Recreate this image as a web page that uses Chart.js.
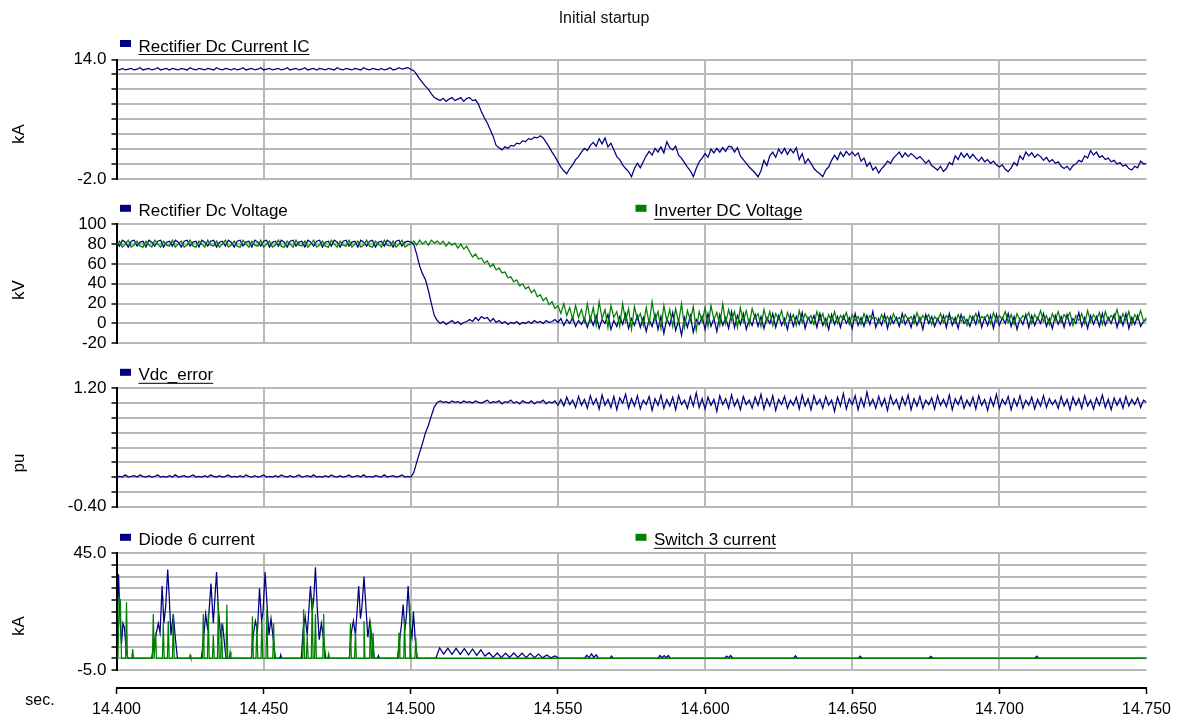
<!DOCTYPE html>
<html>
<head>
<meta charset="utf-8">
<title>Initial startup</title>
<script src="https://cdn.jsdelivr.net/npm/chart.js@4.4.1/dist/chart.umd.min.js"></script>
<style>
  html, body { margin: 0; padding: 0; background: #fff; }
  #wrap { position: relative; width: 1179px; height: 717px; }
  #wrap canvas { position: absolute; left: 0; top: 0; }
</style>
</head>
<body>
<div id="wrap">
  <canvas id="p1" width="1179" height="717"></canvas>
  <canvas id="p2" width="1179" height="717"></canvas>
  <canvas id="p3" width="1179" height="717"></canvas>
  <canvas id="p4" width="1179" height="717"></canvas>
  <canvas id="axis" width="1179" height="717"></canvas>
</div>
<script>
// sampled every 1 ms from 14.400 s (panels 1-3)
const T0 = 14.4, DT = 0.001;
const X_MIN = 14.4, X_MAX = 14.75, X_STEP = 0.05;

// Rectifier Dc Current IC (kA)
const rectCurrent = [
  12.7,12.6,12.8,12.6,12.7,12.8,12.6,12.7,12.9,12.6,
  12.7,12.8,12.6,12.7,12.9,12.6,12.7,12.8,12.6,12.8,
  12.7,12.6,12.8,12.7,12.6,12.9,12.7,12.6,12.8,12.7,
  12.6,12.8,12.7,12.6,12.9,12.7,12.6,12.8,12.7,12.6,
  12.8,12.6,12.7,12.9,12.6,12.7,12.8,12.6,12.7,12.9,
  12.6,12.7,12.8,12.6,12.7,12.8,12.6,12.7,12.9,12.6,
  12.7,12.8,12.6,12.7,12.9,12.6,12.7,12.8,12.6,12.8,
  12.7,12.6,12.8,12.7,12.6,12.9,12.7,12.6,12.8,12.7,
  12.6,12.8,12.7,12.6,12.9,12.7,12.6,12.8,12.7,12.6,
  12.8,12.6,12.7,12.9,12.6,12.7,12.9,12.7,12.8,12.9,
  12.7,12.5,12.0,11.4,10.9,10.4,10.0,9.4,8.9,8.7,
  8.5,8.8,8.4,8.7,8.9,8.5,8.7,8.9,8.4,8.8,
  8.9,8.5,8.6,8.0,7.0,6.2,5.5,4.6,3.7,2.5,
  2.2,1.9,2.3,2.1,2.5,2.4,2.8,2.7,3.1,3.0,
  3.4,3.3,3.6,3.5,3.8,3.5,2.9,2.3,1.6,1.0,
  0.3,-0.4,-0.9,-1.3,-0.6,-0.1,0.6,1.0,1.6,2.1,
  1.8,2.5,2.9,2.4,3.4,2.7,3.5,2.3,2.8,1.9,
  1.0,0.6,-0.1,-0.6,-1.0,-1.7,-0.6,0.1,-0.5,0.3,
  1.1,1.7,1.2,2.1,1.6,2.3,1.5,3.0,2.2,1.9,
  2.4,1.2,0.8,0.2,-0.4,-0.9,-1.7,-0.6,0.3,0.8,
  1.4,0.9,2.0,1.5,2.1,1.6,2.2,1.7,2.4,2.3,
  1.6,2.2,1.1,0.6,0.1,-0.4,-0.8,-1.2,-1.7,-0.9,
  0.5,-0.2,1.1,1.6,0.9,2.0,1.4,2.1,1.3,2.0,
  1.5,2.2,0.6,1.4,0.1,0.7,0.1,-0.6,-1.0,-1.3,
  -1.7,-0.8,-0.4,0.5,1.2,0.6,1.6,1.0,1.7,1.2,
  1.6,1.1,1.5,0.4,0.8,-0.3,0.2,-0.8,-0.4,-1.2,
  -0.6,-0.2,0.4,0.1,0.8,1.2,1.6,0.9,1.5,1.0,
  1.4,1.1,0.7,1.0,0.6,0.1,0.5,-0.2,-0.5,-0.8,
  -0.3,-1.0,-0.6,0.2,-0.1,1.1,0.6,1.5,0.9,1.4,
  0.8,1.3,0.8,0.4,0.9,0.3,0.6,0.1,0.4,-0.1,
  -0.4,-0.1,-0.7,-1.0,-0.5,0.2,-0.2,1.1,0.6,1.6,
  1.1,1.5,0.9,1.3,1.0,0.5,0.9,0.3,0.6,0.1,
  0.3,-0.3,-0.6,-0.3,-0.8,-0.2,0.0,0.5,0.3,1.1,
  0.8,1.8,1.2,1.6,0.9,1.1,0.6,0.8,0.3,0.5,
  0.0,0.2,-0.3,-0.1,-0.6,-0.8,-0.3,-0.5,0.4,0.0,
  0.1
];

// Rectifier Dc Voltage (kV)
const rectVoltage = [
  83,78,84,82,77,83,84,78,82,83,
  77,84,82,78,83,84,77,82,83,78,
  84,82,77,83,84,78,82,83,77,84,
  82,78,83,84,77,82,83,78,84,82,
  77,83,84,78,82,83,77,84,82,78,
  83,84,77,82,83,78,84,82,77,83,
  84,78,82,83,77,84,82,78,83,84,
  77,82,83,78,84,82,77,83,84,78,
  82,83,77,84,82,78,83,84,77,82,
  83,78,84,82,77,83,84,78,82,83,
  82,80,70,58,50,44,33,20,8,3,
  0,2,-1,1,3,0,2,-1,1,2,
  4,2,6,3,7,5,6,2,5,1,
  3,0,2,-1,1,0,2,-1,1,0,
  2,0,3,1,2,0,3,1,2,4,
  1,5,-2,4,0,6,-3,3,-1,5,
  -4,6,-2,8,-5,4,0,9,-6,3,
  -3,7,-1,10,-5,5,-2,8,-4,6,
  -8,4,-3,9,-6,7,-10,5,-2,11,
  -7,3,-12,6,-4,8,-9,4,-1,7,
  -6,10,-3,5,-8,9,-2,6,-5,12,
  -4,8,-1,10,-6,4,-2,9,-3,7,
  -5,6,0,10,-4,8,-2,5,-6,9,
  -3,7,-1,11,-5,6,0,8,-4,10,
  -2,5,-6,9,-1,7,-4,8,0,6,
  -5,10,-2,6,-3,8,-1,12,-4,5,
  -2,9,-5,7,0,6,-3,10,-1,5,
  -4,8,-2,6,-6,9,0,7,-3,5,
  -1,8,-4,10,-2,6,-5,9,0,4,
  -3,7,-1,11,-4,6,-2,8,-5,9,
  -2,6,0,10,-3,7,-6,5,-1,9,
  -4,8,-2,6,0,10,-3,5,-5,8,
  -1,7,-4,9,-2,5,0,11,-3,6,
  -5,8,-1,7,-3,10,-2,6,0,9,
  -4,7,-2,10,-5,6,-1,8,-3,2,
  4
];

// Inverter DC Voltage (kV)
const invVoltage = [
  79,83,77,80,84,77,79,83,78,77,
  83,79,77,84,80,77,83,79,78,84,
  77,80,83,77,79,84,78,77,83,80,
  77,84,79,78,83,77,80,84,77,79,
  83,78,77,84,80,77,83,79,78,84,
  77,80,83,77,79,84,78,77,83,80,
  77,84,79,78,83,77,80,84,77,79,
  83,78,77,84,80,77,83,79,78,84,
  77,80,83,77,79,84,78,77,83,80,
  77,84,79,78,83,77,80,84,77,79,
  80,83,79,84,80,83,79,84,81,83,
  80,83,78,82,79,81,76,80,75,78,
  72,67,70,65,66,61,63,57,60,54,
  56,51,52,46,47,42,44,38,40,35,
  37,31,34,27,29,23,26,19,22,15,
  18,10,20,8,16,4,18,6,14,2,
  20,3,16,-2,22,5,14,-4,18,6,
  12,-3,20,2,15,-6,17,4,10,-2,
  16,0,22,3,12,-5,18,2,14,-3,
  15,1,20,-4,13,3,17,-7,12,2,
  16,-3,18,4,11,-2,20,0,14,3,
  12,-4,16,2,13,-1,15,5,10,-3,
  14,2,12,-2,10,4,13,-1,11,3,
  9,-2,13,1,10,4,8,-1,12,3,
  10,-2,9,2,12,0,8,4,11,-1,
  9,3,7,-1,10,2,8,5,6,0,
  9,2,7,-1,10,3,6,1,9,4,
  7,0,11,2,8,4,9,-1,7,3,
  10,1,8,4,6,0,9,2,7,-2,
  8,3,10,1,7,5,9,0,11,2,
  8,4,12,1,9,-1,10,3,8,5,
  11,0,9,4,13,2,8,-1,10,3,
  12,1,9,5,11,-2,8,3,10,0,
  13,2,9,4,11,-1,12,3,8,5,
  14,1,10,3,12,-1,9,4,13,2,
  6
];

// Vdc_error (pu)
const vdcError = [
  0.00,0.01,0.00,0.03,0.00,0.01,0.02,0.00,0.03,0.01,
  0.00,0.02,0.00,0.01,0.03,0.00,0.01,0.00,0.02,0.00,
  0.03,0.00,0.01,0.02,0.00,0.01,0.03,0.00,0.01,0.00,
  0.02,0.00,0.03,0.01,0.00,0.02,0.00,0.01,0.03,0.00,
  0.01,0.00,0.02,0.00,0.03,0.01,0.00,0.02,0.00,0.01,
  0.03,0.00,0.01,0.00,0.02,0.00,0.03,0.01,0.00,0.02,
  0.00,0.01,0.03,0.00,0.01,0.02,0.00,0.03,0.00,0.01,
  0.00,0.02,0.00,0.03,0.01,0.00,0.02,0.00,0.01,0.03,
  0.00,0.01,0.02,0.00,0.03,0.00,0.01,0.00,0.02,0.01,
  0.00,0.03,0.00,0.01,0.02,0.00,0.01,0.03,0.00,0.01,
  0.00,0.06,0.20,0.33,0.46,0.60,0.70,0.83,0.95,1.01,
  1.03,1.01,1.02,1.00,1.03,1.01,1.02,1.00,1.03,1.01,
  1.02,1.00,1.03,1.01,1.00,1.02,1.04,1.00,1.02,1.01,
  1.03,0.99,1.02,1.01,1.04,1.00,1.02,0.99,1.03,1.01,
  1.00,1.03,0.99,1.02,1.01,1.04,0.99,1.02,1.00,1.03,
  0.97,1.05,0.96,1.08,0.98,1.04,0.94,1.09,0.97,1.05,
  0.93,1.10,0.98,1.06,0.92,1.11,0.97,1.05,0.94,1.09,
  0.91,1.07,1.00,1.12,0.93,1.06,0.96,1.10,0.92,1.04,
  0.98,1.09,0.90,1.06,0.97,1.11,0.93,1.05,0.96,1.08,
  0.91,1.10,0.98,1.04,0.93,1.09,0.96,1.14,0.94,1.06,
  0.92,1.08,0.97,1.05,0.89,1.10,0.98,1.06,0.93,1.11,
  0.96,1.05,0.91,1.09,0.98,1.04,0.93,1.08,0.97,1.12,
  0.92,1.06,0.96,1.10,0.90,1.05,0.98,1.09,0.93,1.04,
  0.97,1.08,0.92,1.11,0.96,1.06,0.91,1.10,0.98,1.05,
  0.93,1.09,0.97,1.04,0.89,1.08,0.96,1.13,0.92,1.06,
  0.98,1.10,0.91,1.07,0.95,1.15,0.97,1.05,0.93,1.09,
  0.96,1.06,0.90,1.10,0.98,1.05,0.92,1.08,0.97,1.11,
  0.91,1.06,0.96,1.09,0.93,1.04,0.98,1.07,0.92,1.10,
  0.97,1.05,0.95,1.11,0.91,1.06,0.98,1.09,0.93,1.04,
  0.96,1.08,0.92,1.10,0.97,1.05,0.90,1.07,0.96,1.12,
  0.93,1.05,0.98,1.09,0.91,1.06,0.96,1.10,0.93,1.04,
  0.97,1.08,0.92,1.05,0.96,1.10,0.94,1.06,0.98,1.04,
  0.93,1.09,0.96,1.05,0.91,1.08,0.97,1.06,0.93,1.10,
  0.96,1.04,0.92,1.07,0.97,1.11,0.94,1.05,0.91,1.07,
  0.97,1.06,0.93,1.09,0.96,1.05,0.98,1.07,0.94,1.04,
  1.01
];

// Diode 6 current: [time s, kA]
const diodePoints = [
  [14.4000,8],[14.4007,36],[14.4012,17],[14.4017,6],[14.4022,15],[14.4027,13],[14.4033,3],[14.4039,0],
  [14.4119,0],[14.4134,10],[14.4142,15],[14.4148,11],[14.4155,31],[14.4161,15],[14.4167,22],[14.4174,38],[14.4179,27],[14.4185,10],[14.4193,19],[14.4199,10],[14.4207,0],
  [14.4288,0],[14.4295,7],[14.4303,19],[14.4310,12],[14.4321,32],[14.4329,15],[14.4340,37],[14.4346,21],[14.4354,10],[14.4361,14],[14.4372,0],
  [14.4458,0],[14.4465,10],[14.4472,16],[14.4479,12],[14.4486,30],[14.4493,16],[14.4498,20],[14.4505,37],[14.4511,24],[14.4518,10],[14.4525,17],[14.4532,9],[14.4540,0],
  [14.4555,0],[14.4558,1.5],[14.4561,0],
  [14.4628,0],[14.4634,12],[14.4641,18],[14.4648,10],[14.4659,31],[14.4665,20],[14.4670,25],[14.4676,39],[14.4682,22],[14.4689,8],[14.4696,15],[14.4703,9],[14.4711,0],
  [14.4791,0],[14.4798,11],[14.4805,16],[14.4812,10],[14.4823,31],[14.4829,17],[14.4834,22],[14.4841,35],[14.4847,23],[14.4854,9],[14.4861,16],[14.4868,8],[14.4876,0],
  [14.4887,0],[14.4890,1.2],[14.4893,0],
  [14.4955,0],[14.4962,8],[14.4968,14],[14.4974,23],[14.4980,12],[14.4985,18],[14.4991,31],[14.4998,14],[14.5004,9],[14.5009,20],[14.5015,8],[14.5022,0],
  [14.5085,0],[14.5098,4.5],[14.5112,1.8],[14.5126,4.4],[14.5140,1.7],[14.5154,4.3],[14.5168,1.7],[14.5182,4.2],[14.5196,1.5],[14.5210,4.0],
  [14.5224,1.3],[14.5238,3.6],[14.5252,1.0],[14.5266,2.4],[14.5280,0.4],[14.5294,2.3],[14.5308,0.3],[14.5322,2.2],[14.5336,0.4],[14.5350,2.3],
  [14.5364,0.4],[14.5378,2.2],[14.5392,0.3],[14.5406,2.1],[14.5420,0.3],[14.5434,1.8],[14.5448,0.2],[14.5462,1.4],[14.5476,0.2],[14.5490,1.0],[14.5504,0],
  [14.5590,0],[14.5598,1.3],[14.5606,0.3],[14.5614,1.9],[14.5622,0.4],[14.5630,1.5],[14.5638,0],
  [14.5676,0],[14.5682,1.0],[14.5688,0],
  [14.5840,0],[14.5847,1.2],[14.5854,0.3],[14.5861,1.2],[14.5868,0.3],[14.5875,1.2],[14.5882,0],
  [14.6066,0],[14.6073,1.0],[14.6080,0.3],[14.6087,1.2],[14.6094,0],
  [14.6300,0],[14.6307,1.1],[14.6314,0],
  [14.6520,0],[14.6527,0.9],[14.6534,0],
  [14.6760,0],[14.6767,0.8],[14.6774,0],
  [14.7120,0],[14.7127,0.9],[14.7134,0],
  [14.7500,0]
];

// Switch 3 current: [time s, kA]
const switchPoints = [
  [14.4000,0],[14.4005,0],[14.4009,26],[14.4013,25],[14.4017,0],
  [14.4031,0],[14.4034,24],[14.4037,0],
  [14.4052,0],[14.4055,4],[14.4058,0],
  [14.4122,0],[14.4125,19],[14.4128,0],
  [14.4130,0],[14.4133,11],[14.4136,0],
  [14.4156,0],[14.4159,15],[14.4162,0],
  [14.4173,0],[14.4176,16],[14.4179,0],
  [14.4190,0],[14.4193,19],[14.4196,0],
  [14.4247,0],[14.4250,1.4],[14.4253,0],
  [14.4292,0],[14.4295,19],[14.4298,0],
  [14.4309,0],[14.4312,19],[14.4315,0],
  [14.4326,0],[14.4329,10],[14.4332,0],
  [14.4343,0],[14.4346,24],[14.4349,0],
  [14.4354,0],[14.4357,15],[14.4360,0],
  [14.4372,0],[14.4375,23],[14.4378,0],
  [14.4383,0],[14.4386,2.8],[14.4389,0],
  [14.4459,0],[14.4462,18],[14.4465,0],
  [14.4474,0],[14.4477,15],[14.4480,0],
  [14.4491,0],[14.4494,16],[14.4497,0],
  [14.4508,0],[14.4511,21],[14.4514,0],
  [14.4531,0],[14.4534,15],[14.4537,0],
  [14.4633,0],[14.4636,21],[14.4639,0],
  [14.4645,0],[14.4648,10],[14.4651,0],
  [14.4662,0],[14.4665,26],[14.4668,0],
  [14.4673,0],[14.4676,19],[14.4679,0],
  [14.4701,0],[14.4704,19],[14.4707,0],
  [14.4718,0],[14.4721,2],[14.4724,0],
  [14.4792,0],[14.4795,15],[14.4798,0],
  [14.4809,0],[14.4812,11],[14.4815,0],
  [14.4838,0],[14.4841,16],[14.4844,0],
  [14.4860,0],[14.4863,16],[14.4866,0],
  [14.4869,0],[14.4872,11],[14.4875,0],
  [14.4957,0],[14.4960,11],[14.4963,0],
  [14.4976,0],[14.4979,16],[14.4982,0],
  [14.4994,0],[14.4997,23],[14.5000,0],
  [14.5014,0],[14.5017,9],[14.5020,0],
  [14.7500,0]
];

const NAVY = '#000080';
const GREEN = '#008000';
const GRID = '#b9b9b9';
const PLOT_LEFT = 116.5;
const PLOT_RIGHT = 1146.5;
const H = 717, W = 1179;

Chart.defaults.font.family = '"Liberation Sans", Arial, sans-serif';
Chart.defaults.color = '#000';

function sampled(values) {
  return values.map((v, i) => ({ x: T0 + i * DT, y: v }));
}
function pairs(list) {
  return list.map(p => ({ x: p[0], y: p[1] }));
}

// legends, axis titles and free text
const decor = {
  id: 'decor',
  afterDraw(chart, args, opts) {
    const ctx = chart.ctx;
    const top = chart.chartArea.top;
    ctx.save();
    ctx.fillStyle = '#000';
    (opts.legends || []).forEach(l => {
      const base = top - 8;
      ctx.fillStyle = l.color;
      ctx.fillRect(l.x, base - 11.5, 11, 7);
      ctx.fillStyle = '#000';
      ctx.font = '17px "Liberation Sans", Arial, sans-serif';
      ctx.textAlign = 'left';
      ctx.textBaseline = 'alphabetic';
      const tx = l.x + 18.5;
      ctx.fillText(l.text, tx, base);
      if (l.underline) {
        const w = ctx.measureText(l.text).width;
        ctx.fillRect(tx, base + 2.5, w, 1);
      }
    });
    if (opts.yTitle) {
      ctx.translate(19, opts.yTitle.y);
      ctx.rotate(-Math.PI / 2);
      ctx.font = '17px "Liberation Sans", Arial, sans-serif';
      ctx.textAlign = 'center';
      ctx.textBaseline = 'middle';
      ctx.fillText(opts.yTitle.text, 0, 0);
      ctx.setTransform(1, 0, 0, 1, 0, 0);
    }
    (opts.texts || []).forEach(t => {
      ctx.font = t.font;
      ctx.fillStyle = t.color || '#000';
      ctx.textAlign = 'center';
      ctx.textBaseline = 'alphabetic';
      ctx.fillText(t.text, t.x, t.y);
    });
    ctx.restore();
  }
};

function panel(id, cfg) {
  return new Chart(document.getElementById(id), {
    type: 'line',
    data: {
      datasets: cfg.datasets.map(d => ({
        label: d.label,
        data: d.data,
        borderColor: d.color,
        backgroundColor: d.color,
        borderWidth: 1.25,
        pointRadius: 0,
        tension: 0,
        order: d.order
      }))
    },
    options: {
      responsive: false,
      animation: false,
      events: [],
      layout: { padding: { top: cfg.top, bottom: H - cfg.bottom, left: 0, right: W - PLOT_RIGHT } },
      plugins: {
        legend: { display: false },
        tooltip: { enabled: false },
        decor: { legends: cfg.legends, yTitle: cfg.yTitle }
      },
      scales: {
        x: {
          type: 'linear',
          min: X_MIN,
          max: X_MAX,
          afterFit: s => { s.height = 0; },
          ticks: { display: false, stepSize: X_STEP, autoSkip: false },
          grid: {
            drawTicks: false,
            lineWidth: 2,
            color: c => (c.tick && c.tick.value > X_MAX - 0.001) ? 'rgba(0,0,0,0)' : GRID
          },
          border: { display: false }
        },
        y: {
          min: cfg.min,
          max: cfg.max,
          afterFit: s => { s.width = PLOT_LEFT; },
          ticks: {
            stepSize: cfg.step,
            autoSkip: false,
            padding: 5,
            font: { size: 17 },
            color: '#000',
            callback: cfg.fmt
          },
          grid: { color: GRID, lineWidth: 2, tickColor: '#000', tickLength: 5, tickWidth: 1.5 },
          border: { color: '#000', width: 2 }
        }
      }
    },
    plugins: [decor]
  });
}

const endsOnly = digits => (v, i, ticks) =>
  (i === 0 || i === ticks.length - 1) ? Number(v).toFixed(digits) : '';

panel('p1', {
  top: 59.5, bottom: 179, min: -2, max: 14, step: 2, fmt: endsOnly(1),
  yTitle: { text: 'kA', y: 134 },
  legends: [{ text: 'Rectifier Dc Current IC', color: NAVY, x: 120, underline: true }],
  datasets: [{ label: 'Rectifier Dc Current IC', data: sampled(rectCurrent), color: NAVY, order: 0 }]
});

panel('p2', {
  top: 224.3, bottom: 343.3, min: -20, max: 100, step: 20, fmt: v => Number(v).toFixed(0),
  yTitle: { text: 'kV', y: 290 },
  legends: [
    { text: 'Rectifier Dc Voltage', color: NAVY, x: 120, underline: false },
    { text: 'Inverter DC Voltage', color: GREEN, x: 635.5, underline: true }
  ],
  datasets: [
    { label: 'Rectifier Dc Voltage', data: sampled(rectVoltage), color: NAVY, order: 1 },
    { label: 'Inverter DC Voltage', data: sampled(invVoltage), color: GREEN, order: 0 }
  ]
});

panel('p3', {
  top: 388.3, bottom: 506.7, min: -0.4, max: 1.2, step: 0.2, fmt: endsOnly(2),
  yTitle: { text: 'pu', y: 463 },
  legends: [{ text: 'Vdc_error', color: NAVY, x: 120, underline: true }],
  datasets: [{ label: 'Vdc_error', data: sampled(vdcError), color: NAVY, order: 0 }]
});

panel('p4', {
  top: 553.3, bottom: 670, min: -5, max: 45, step: 5, fmt: endsOnly(1),
  yTitle: { text: 'kA', y: 626 },
  legends: [
    { text: 'Diode 6 current', color: NAVY, x: 120, underline: false },
    { text: 'Switch 3 current', color: GREEN, x: 635.5, underline: true }
  ],
  datasets: [
    { label: 'Diode 6 current', data: pairs(diodePoints), color: NAVY, order: 1 },
    { label: 'Switch 3 current', data: pairs(switchPoints), color: GREEN, order: 0 }
  ]
});

// shared time axis at the bottom
new Chart(document.getElementById('axis'), {
  type: 'line',
  data: { datasets: [] },
  options: {
    responsive: false,
    animation: false,
    events: [],
    layout: { padding: { top: 686, bottom: 0, left: PLOT_LEFT, right: W - PLOT_RIGHT } },
    plugins: {
      legend: { display: false },
      tooltip: { enabled: false },
      decor: {
        texts: [
          { text: 'Initial startup', x: 604, y: 22.5, font: '16px "Liberation Sans", Arial, sans-serif', color: '#111' },
          { text: 'sec.', x: 40, y: 705, font: '16px "Liberation Sans", Arial, sans-serif' }
        ]
      }
    },
    scales: {
      x: {
        type: 'linear',
        min: X_MIN,
        max: X_MAX,
        afterFit: s => { s.height = 29; },
        ticks: {
          stepSize: X_STEP,
          autoSkip: false,
          maxRotation: 0,
          padding: 6,
          font: { size: 16 },
          color: '#000',
          callback: v => Number(v).toFixed(3)
        },
        grid: { drawOnChartArea: false, tickColor: '#000', tickLength: 6, tickWidth: 1.5 },
        border: { color: '#000', width: 2 }
      },
      y: { display: false, min: 0, max: 1 }
    }
  },
  plugins: [decor]
});
</script>
</body>
</html>
